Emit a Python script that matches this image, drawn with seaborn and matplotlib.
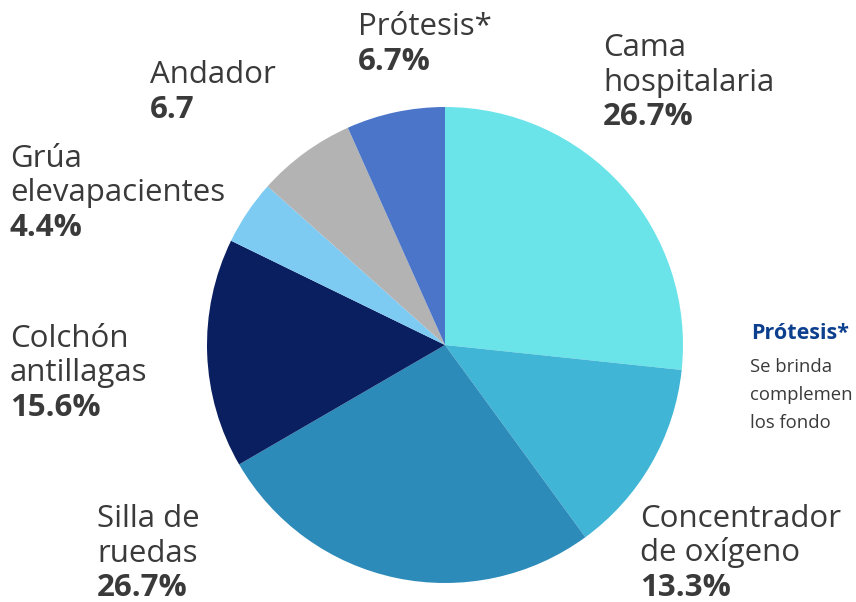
import matplotlib
matplotlib.use("Agg")
import matplotlib.pyplot as plt
import seaborn as sns

# data
labels = ["Cama\nhospitalaria", "Concentrador\nde oxígeno", "Silla de\nruedas",
          "Colchón\nantillagas", "Grúa\nelevapacientes", "Andador", "Prótesis*"]
values = [26.7, 13.3, 26.7, 15.6, 4.4, 6.7, 6.7]
value_text = ["26.7%", "13.3%", "26.7%", "15.6%", "4.4%", "6.7", "6.7%"]
colors = ["#6AE3E9", "#40B5D5", "#2D8BBA", "#0A1F60", "#7DCBF3", "#B3B3B3", "#4A75C9"]

# label anchor (left x, baseline of first line) in pixels from top-left
label_pos = [(603, 56), (640, 527), (97, 527), (10, 347), (10, 167), (150, 83), (358, 35)]

# side note, only partly visible at the right edge of the reference
note_title = "Prótesis*"
note_lines = ["Se brinda", "complemen", "los fondo"]

sns.set_theme(style="white")
plt.rcParams["font.family"] = ["Open Sans", "DejaVu Sans"]

W, H = 856, 602
fig = plt.figure(figsize=(W / 100, H / 100), dpi=100)
ax = fig.add_axes([0, 0, 1, 1])

ax.pie(values, colors=sns.color_palette(colors), startangle=90, counterclock=False,
       center=(445, H - 345), radius=238, wedgeprops=dict(linewidth=0), frame=True)
ax.set_xlim(0, W)
ax.set_ylim(0, H)
ax.set_aspect("equal")
ax.axis("off")

line_h = 34.5
txt_col = "#3a3a3a"
for lab, vt, (x, y) in zip(labels, value_text, label_pos):
    lines = lab.split("\n")
    for i, ln in enumerate(lines):
        ax.text(x, H - (y + i * line_h), ln, fontsize=22.5, color=txt_col,
                ha="left", va="baseline")
    ax.text(x, H - (y + len(lines) * line_h), vt, fontsize=22.5, fontweight="bold",
            color=txt_col, ha="left", va="baseline")

ax.text(751, H - 339, note_title, fontsize=15.5, fontweight="bold", color="#0D3F8F",
        ha="left", va="baseline")
for i, ln in enumerate(note_lines):
    ax.text(750, H - (372 + i * 28), ln, fontsize=13.3, color=txt_col,
            ha="left", va="baseline")

fig.savefig("out.png", dpi=100)
